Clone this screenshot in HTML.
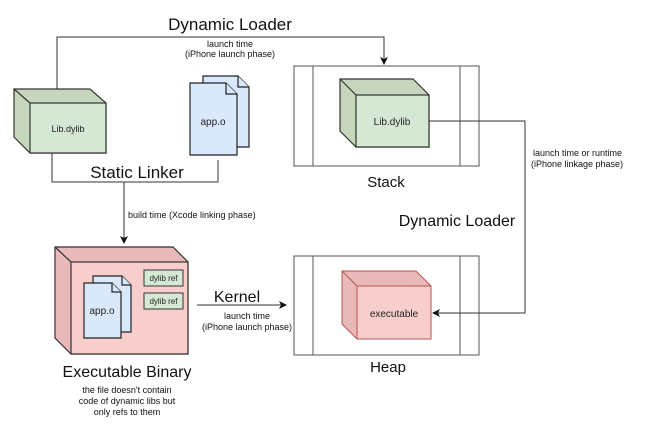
<!DOCTYPE html>
<html><head><meta charset="utf-8"><style>
body{margin:0;background:#fff;}
svg{display:block;font-family:"Liberation Sans",Arial,sans-serif;}
</style></head><body>
<svg width="654" height="442" viewBox="0 0 654 442" xmlns="http://www.w3.org/2000/svg">
<defs>
<marker id="ar" markerWidth="8" markerHeight="8" refX="7" refY="4" orient="auto" markerUnits="userSpaceOnUse">
<path d="M0,0 L8,4 L0,8 L2,4 Z" fill="#111"/></marker>
</defs>
<!-- Stack / Heap -->
<g stroke="#555" stroke-width="1" fill="none">
<rect x="294" y="66" width="185" height="100" fill="#fff"/>
<line x1="313" y1="66" x2="313" y2="166"/>
<line x1="460" y1="66" x2="460" y2="166"/>
<rect x="294" y="256" width="185" height="99" fill="#fff"/>
<line x1="313" y1="256" x2="313" y2="355"/>
<line x1="460" y1="256" x2="460" y2="355"/>
</g>
<g fill="none" stroke="#333" stroke-width="1">
<polyline points="57,89 57,37 384,37 384,64" marker-end="url(#ar)"/>
<polyline points="52,153 52,182 218,182 218,160"/>
<line x1="124" y1="182" x2="124" y2="243" marker-end="url(#ar)"/>
<line x1="197" y1="305" x2="286" y2="305" marker-end="url(#ar)"/>
<polyline points="429,121 525,121 525,313 433,313" marker-end="url(#ar)"/>
</g>
<!-- Lib.dylib cube left -->
<g stroke="#333" stroke-width="1.2">
<polygon points="14,89 90,89 106,103 106,153 30,153 14,137" fill="#c6d6bc"/>
<rect x="30" y="103" width="76" height="50" fill="#d5e8d4"/>
<line x1="14" y1="89" x2="30" y2="103"/>
</g>
<text x="68" y="132" font-size="9" text-anchor="middle" fill="#222">Lib.dylib</text>
<g stroke="#222" stroke-width="1.2" fill="#dae8fc">
<path d="M203,76 H238 L249,87 V147 H203 Z"/>
<path d="M238,76 V87 H249"/>
<path d="M190,83 H226 L237,94 V155 H190 Z"/>
<path d="M226,83 V94 H237"/>
</g>
<text x="213" y="125" font-size="10" text-anchor="middle" fill="#222">app.o</text>
<!-- Exec cube -->
<g stroke="#333" stroke-width="1.2">
<polygon points="55,247 173,247 188,262 188,354 71,354 55,338" fill="#e8b9b8"/>
<rect x="71" y="262" width="117" height="92" fill="#f8cecc"/>
<line x1="55" y1="247" x2="71" y2="262"/>
</g>
<g stroke="#333" stroke-width="1" fill="#d5e8d4">
<rect x="144" y="270" width="39" height="16"/>
<rect x="144" y="293" width="39" height="16"/>
</g>
<text x="163.5" y="281" font-size="8" text-anchor="middle" fill="#222">dylib ref</text>
<text x="163.5" y="304" font-size="8" text-anchor="middle" fill="#222">dylib ref</text>
<g stroke="#222" stroke-width="1.2" fill="#dae8fc">
<path d="M93,276 H122 L131,285 V332 H93 Z"/>
<path d="M122,276 V285 H131"/>
<path d="M84,283 H112 L121,292 V338 H84 Z"/>
<path d="M112,283 V292 H121"/>
</g>
<text x="102" y="314" font-size="10" text-anchor="middle" fill="#222">app.o</text>
<g stroke="#333" stroke-width="1.2">
<polygon points="340,79 413,79 429,95 429,147 356,147 340,131" fill="#c6d6bc"/>
<rect x="356" y="95" width="73" height="52" fill="#d5e8d4"/>
<line x1="340" y1="79" x2="356" y2="95"/>
</g>
<text x="392" y="125" font-size="10" text-anchor="middle" fill="#222">Lib.dylib</text>
<g stroke="#b85450" stroke-width="1">
<polygon points="342,271 416,271 431,286 431,339 357,339 342,324" fill="#e8b9b8"/>
<rect x="357" y="286" width="74" height="53" fill="#f8cecc"/>
<line x1="342" y1="271" x2="357" y2="286"/>
</g>
<text x="394" y="317" font-size="10" text-anchor="middle" fill="#222">executable</text>
<g fill="#111" text-anchor="middle">
<text x="230" y="30" font-size="17">Dynamic Loader</text>
<text x="230" y="47" font-size="9">launch time</text>
<text x="230" y="57" font-size="9">(iPhone launch phase)</text>
<text x="137" y="178" font-size="17">Static Linker</text>
<text x="237" y="302" font-size="16">Kernel</text>
<text x="247" y="319" font-size="9">launch time</text>
<text x="247" y="330" font-size="9">(iPhone launch phase)</text>
<text x="127" y="377" font-size="16">Executable Binary</text>
<text x="127" y="393" font-size="9">the file doesn't contain</text>
<text x="127" y="404" font-size="9">code of dynamic libs but</text>
<text x="127" y="415" font-size="9">only refs to them</text>
<text x="386" y="187" font-size="15">Stack</text>
<text x="388" y="372" font-size="15">Heap</text>
<text x="457" y="226" font-size="16">Dynamic Loader</text>
</g>
<text x="128" y="218" font-size="9" fill="#111">build time (Xcode linking phase)</text>
<text x="533" y="156" font-size="9" fill="#111">launch time or runtime</text>
<text x="531" y="167" font-size="9" fill="#111">(iPhone linkage phase)</text>
</svg>
</body></html>
